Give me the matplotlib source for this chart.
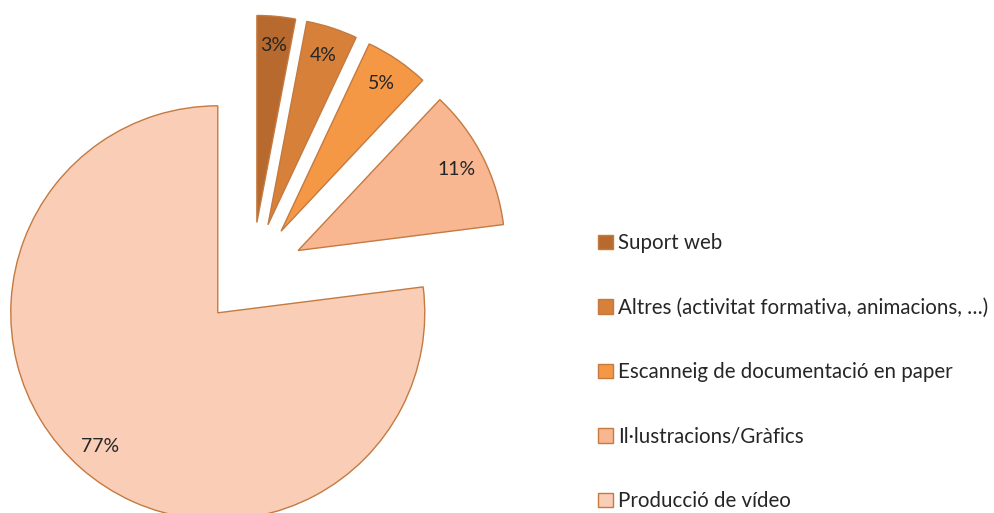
import matplotlib
matplotlib.use("Agg")
import matplotlib.pyplot as plt

categories = ["Suport web", "Altres (activitat formativa, animacions, …)",
              "Escanneig de documentació en paper", "Il·lustracions/Gràfics",
              "Producció de vídeo"]
values = [3, 4, 5, 11, 77]
colors = ["#B86A2E", "#D6803A", "#F59846", "#F8B691", "#FACDB7"]
edge = "#C47A40"

plt.rcParams['font.family'] = ['Lato', 'DejaVu Sans']

W, H = 994, 513
fig = plt.figure(figsize=(W / 100, H / 100), dpi=100)
ax = fig.add_axes([0, 0, 1, 1])

R = 207.0
cx, cy = 252.0, 274.0  # pie centre in pixels from top-left

wedges, texts, autotexts = ax.pie(
    values, colors=colors, startangle=90, counterclock=False,
    explode=[0.25] * len(values), radius=1.0,
    autopct=lambda p: f"{p:.0f}%", pctdistance=0.86,
    wedgeprops=dict(edgecolor=edge, linewidth=1.0),
    textprops=dict(fontsize=14, color="#262626"))

ax.set_xlim(-cx / R, (W - cx) / R)
ax.set_ylim(-(H - cy) / R, cy / R)
ax.set_aspect('equal')
ax.axis('off')

fs = 14.8
leg = fig.legend(wedges, categories, loc='upper left',
                 bbox_to_anchor=(598 / W, 1 - 233 / H),
                 frameon=False, fontsize=fs, handlelength=10.5 / fs,
                 handleheight=10.5 / fs,
                 handletextpad=0.25, labelspacing=2.17, borderpad=0,
                 borderaxespad=0)
for t in leg.get_texts():
    t.set_color("#262626")

fig.savefig("out.png", dpi=100)
